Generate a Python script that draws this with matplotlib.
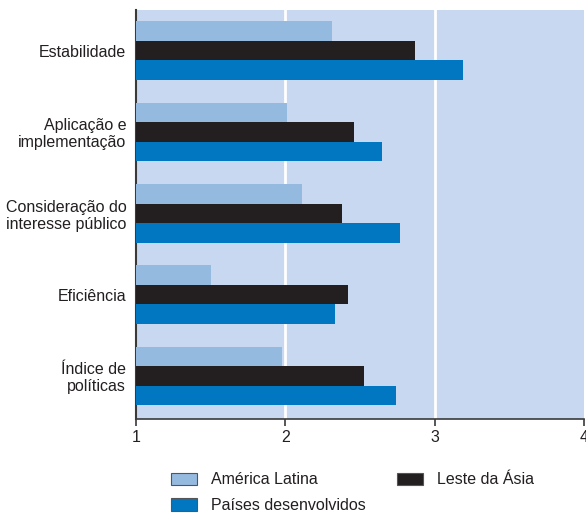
import numpy as np
import matplotlib
matplotlib.use("Agg")
import matplotlib.pyplot as plt

plt.rcParams['font.family'] = ['Liberation Sans', 'DejaVu Sans']

categories = ["Estabilidade", "Aplicação e\nimplementação", "Consideração do\ninteresse público",
              "Eficiência", "Índice de\npolíticas"]
america_latina = [2.31, 2.01, 2.11, 1.50, 1.98]
leste_asia = [2.87, 2.46, 2.38, 2.42, 2.53]
paises_desenv = [3.19, 2.65, 2.77, 2.33, 2.74]

c_al = '#95bae0'
c_la = '#231f20'
c_pd = '#0077c0'
text_c = '#231f20'

fig = plt.figure(figsize=(5.86, 5.14), dpi=100)
ax = fig.add_axes([136 / 586, 1 - 419 / 514, (584 - 136) / 586, (419 - 10) / 514])
ax.set_facecolor('#c8d8f0')

y = np.arange(len(categories))
h = 0.24
ax.barh(y - h, np.array(america_latina) - 1, left=1, height=h, color=c_al, zorder=3)
ax.barh(y, np.array(leste_asia) - 1, left=1, height=h, color=c_la, zorder=3)
ax.barh(y + h, np.array(paises_desenv) - 1, left=1, height=h, color=c_pd, zorder=3)

ax.set_xlim(1, 4)
ax.set_ylim(4.53, -0.5)
ax.set_xticks([1, 2, 3, 4])
ax.set_yticks(y)
ax.set_yticklabels(categories, fontsize=11.5, color=text_c, linespacing=1.15)
ax.tick_params(axis='y', length=0, pad=7)
ax.tick_params(axis='x', length=5, width=1.2, color='#3a3a3a', labelsize=11.5,
               labelcolor=text_c, pad=3)
for v in [2, 3]:
    ax.axvline(v, color='white', lw=2, zorder=2)

for s in ['top', 'right']:
    ax.spines[s].set_visible(False)
ax.spines['left'].set_color('#3a3a3a')
ax.spines['left'].set_linewidth(1.5)
ax.spines['bottom'].set_color('#3a3a3a')
ax.spines['bottom'].set_linewidth(1.2)

handles = [plt.Rectangle((0, 0), 1, 1, facecolor=c_al, edgecolor='#555555', lw=0.8),
           plt.Rectangle((0, 0), 1, 1, facecolor=c_pd, edgecolor='#555555', lw=0.8),
           plt.Rectangle((0, 0), 1, 1, facecolor=c_la, edgecolor='#555555', lw=0.8)]
labels = ["América Latina", "Países desenvolvidos", "Leste da Ásia"]
leg = fig.legend(handles, labels, ncol=2, loc='upper left', bbox_to_anchor=(160 / 586, 1 - 461 / 514),
                 frameon=False, fontsize=11.5, handlelength=1.6, handleheight=0.8,
                 columnspacing=1.95, labelspacing=0.68, handletextpad=0.9, borderaxespad=0.3)
for t in leg.get_texts():
    t.set_color(text_c)

fig.savefig("out.png", dpi=100)
